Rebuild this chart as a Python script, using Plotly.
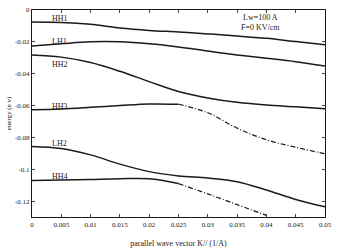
import plotly.graph_objects as go

k = [0, 0.005, 0.01, 0.015, 0.02, 0.025, 0.03, 0.035, 0.04, 0.045, 0.05]
hh1 = [-0.0075, -0.0078, -0.0090, -0.0113, -0.0128, -0.0138, -0.0150, -0.0163, -0.0178, -0.0198, -0.0218]
lh1 = [-0.0226, -0.0212, -0.0200, -0.0200, -0.0212, -0.0232, -0.0258, -0.0282, -0.0303, -0.0325, -0.0352]
hh2 = [-0.0283, -0.0296, -0.0330, -0.0385, -0.0450, -0.0512, -0.0552, -0.0580, -0.0597, -0.0608, -0.0620]
lh2 = [-0.0857, -0.0870, -0.0910, -0.0968, -0.1015, -0.1042, -0.1055, -0.1078, -0.1130, -0.1190, -0.1236]

k_hh3_solid = [0, 0.005, 0.01, 0.015, 0.02, 0.025]
hh3_solid = [-0.0626, -0.0621, -0.0611, -0.0600, -0.0590, -0.0592]
k_hh3_dash = [0.025, 0.03, 0.035, 0.04, 0.045, 0.05]
hh3_dash = [-0.0592, -0.0645, -0.0742, -0.0815, -0.0862, -0.0903]

k_hh4_solid = [0, 0.005, 0.01, 0.015, 0.02, 0.025]
hh4_solid = [-0.1071, -0.1068, -0.1064, -0.1060, -0.1060, -0.1090]
k_hh4_dash = [0.025, 0.03, 0.035, 0.04]
hh4_dash = [-0.1090, -0.1155, -0.1222, -0.1290]

labels = ["HH1", "LH1", "HH2", "HH3", "LH2", "HH4"]
label_y = [-0.0052, -0.0197, -0.0342, -0.0603, -0.0839, -0.1048]

xticks = [0, 0.005, 0.01, 0.015, 0.02, 0.025, 0.03, 0.035, 0.04, 0.045, 0.05]
xtick_text = ["0", "0.005", "0.01", "0.015", "0.02", "0.025", "0.03", "0.035", "0.04", "0.045", "0.05"]
yticks = [0, -0.02, -0.04, -0.06, -0.08, -0.1, -0.12]
ytick_text = ["0", "-0.02", "-0.04", "-0.06", "-0.08", "-0.1", "-0.12"]

FONT = "Liberation Serif"
LC = "#1a1a1a"
DASH = "5px,2px,1px,2px"

fig = go.Figure()
for ys in [hh1, lh1, hh2, lh2]:
    fig.add_trace(go.Scatter(x=k, y=ys, mode="lines", line=dict(color=LC, width=1.5, shape="spline")))
fig.add_trace(go.Scatter(x=k_hh3_solid, y=hh3_solid, mode="lines", line=dict(color=LC, width=1.5, shape="spline")))
fig.add_trace(go.Scatter(x=k_hh3_dash, y=hh3_dash, mode="lines", line=dict(color=LC, width=1.2, shape="spline", dash=DASH)))
fig.add_trace(go.Scatter(x=k_hh4_solid, y=hh4_solid, mode="lines", line=dict(color=LC, width=1.5, shape="spline")))
fig.add_trace(go.Scatter(x=k_hh4_dash, y=hh4_dash, mode="lines", line=dict(color=LC, width=1.2, shape="spline", dash=DASH)))

for t, yv in zip(labels, label_y):
    fig.add_annotation(x=0.003, y=yv, text=t, showarrow=False, xanchor="left", yanchor="middle",
                       font=dict(family=FONT, size=8, color=LC))
fig.add_annotation(x=0.039, y=-0.005, text="Lw=100 A", showarrow=False, xanchor="center", yanchor="middle",
                   font=dict(family=FONT, size=8, color=LC))
fig.add_annotation(x=0.039, y=-0.011, text="F=0 KV/cm", showarrow=False, xanchor="center", yanchor="middle",
                   font=dict(family=FONT, size=8, color=LC))

fig.update_layout(
    width=338, height=252,
    margin=dict(l=32, r=11, t=6, b=32),
    paper_bgcolor="white", plot_bgcolor="white",
    showlegend=False,
    font=dict(family=FONT, size=8, color=LC),
    xaxis=dict(range=[0, 0.05], tickvals=xticks, ticktext=xtick_text, ticks="inside", ticklen=3,
               showline=True, linecolor=LC, linewidth=1.2, mirror="ticks", showgrid=False, zeroline=False,
               tickfont=dict(family=FONT, size=7),
               title=dict(text="parallel wave vector K// (1/A)", font=dict(family=FONT, size=8), standoff=12)),
    yaxis=dict(range=[-0.13, 0], tickvals=yticks, ticktext=ytick_text, ticks="inside", ticklen=3,
               showline=True, linecolor=LC, linewidth=1.2, mirror="ticks", showgrid=False, zeroline=False,
               tickfont=dict(family=FONT, size=7),
               title=dict(text="energy (e v)", font=dict(family=FONT, size=7), standoff=2)),
)

fig.write_html("out.html")
